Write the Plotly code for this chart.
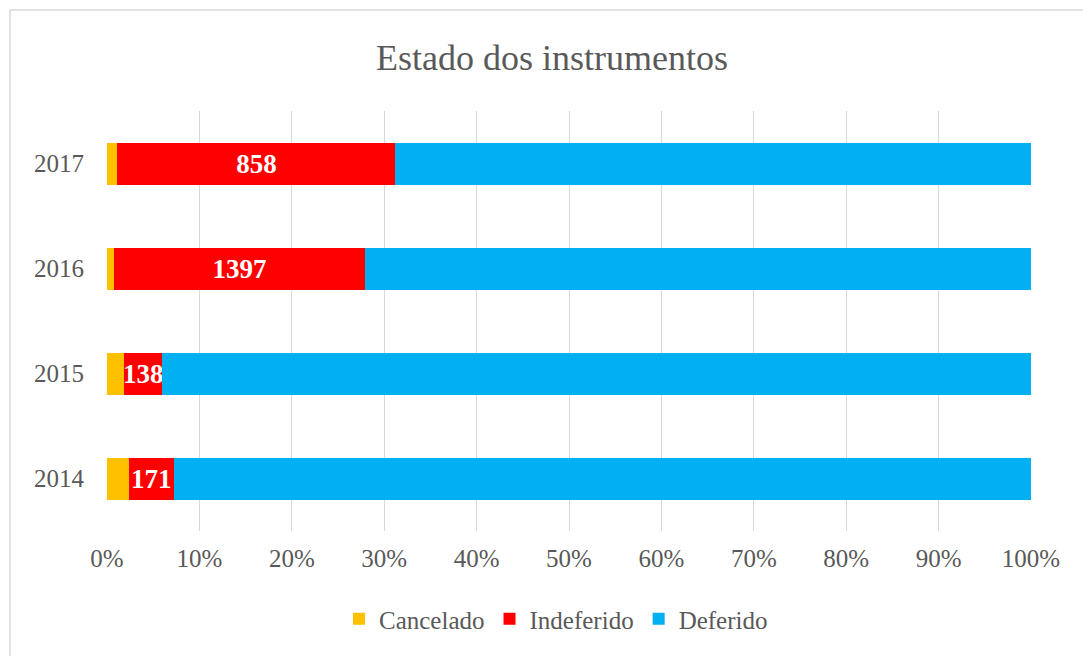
import plotly.graph_objects as go

years = ["2014", "2015", "2016", "2017"]
cancelado = [84, 63, 41, 32]
indeferido = [171, 138, 1397, 858]
deferido = [3278, 3157, 3717, 1961]

series_names = ["Cancelado", "Indeferido", "Deferido"]
colors = ["#FFC000", "#FF0000", "#00B0F0"]

FONT = "Liberation Serif, Times New Roman, serif"
GRAY = "#595959"

W, H = 1083, 656
L, T, R, B = 107, 111, 52, 125
PW, PH = W - L - R, H - T - B

fig = go.Figure()
fig.add_trace(go.Bar(y=years, x=cancelado, name=series_names[0], orientation="h",
                     marker=dict(color=colors[0], line=dict(width=0))))
fig.add_trace(go.Bar(y=years, x=indeferido, name=series_names[1], orientation="h",
                     marker=dict(color=colors[1], line=dict(width=0)),
                     text=[str(v) for v in indeferido], textposition="inside",
                     insidetextanchor="middle", constraintext="none", textangle=0,
                     textfont=dict(family=FONT, size=27, color="white", weight="bold")))
fig.add_trace(go.Bar(y=years, x=deferido, name=series_names[2], orientation="h",
                     marker=dict(color=colors[2], line=dict(width=0))))

fig.update_layout(
    width=W, height=H,
    barmode="stack", barnorm="percent", bargap=0.6,
    paper_bgcolor="white", plot_bgcolor="white",
    margin=dict(l=L, r=R, t=T, b=B),
    font=dict(family=FONT, color=GRAY, size=25),
    title=dict(text="Estado dos instrumentos", x=552 / W, xanchor="center",
               y=1 - 57 / H, yanchor="middle",
               font=dict(family=FONT, size=36, color=GRAY)),
    legend=dict(orientation="h", x=(556 - L) / PW, xanchor="center",
                y=-(619 - 531) / PH, yanchor="middle",
                font=dict(family=FONT, size=25, color=GRAY), traceorder="normal",
                itemwidth=30),
    uniformtext=dict(mode="show", minsize=10),
    showlegend=True,
)
fig.update_xaxes(range=[0, 100], dtick=10, ticksuffix="%", showgrid=True,
                 gridcolor="#D9D9D9", gridwidth=1, zeroline=False, showline=False,
                 ticks="", ticklabelstandoff=10, tickfont=dict(size=25, color=GRAY))
fig.update_yaxes(showgrid=False, zeroline=False, showline=False, ticks="",
                 ticklabelstandoff=22, tickfont=dict(size=25, color=GRAY))

fig.add_shape(type="rect", xref="paper", yref="paper",
              x0=(10 - L) / PW, x1=(W + 40 - L) / PW,
              y0=-(B + 40) / PH, y1=(PH + T - 10) / PH,
              line=dict(color="#D9D9D9", width=1.5), layer="below")

fig.write_html(
    "out.html",
    config={"displayModeBar": False},
    post_script="document.body.style.margin='0';document.body.style.overflow='hidden';",
)
